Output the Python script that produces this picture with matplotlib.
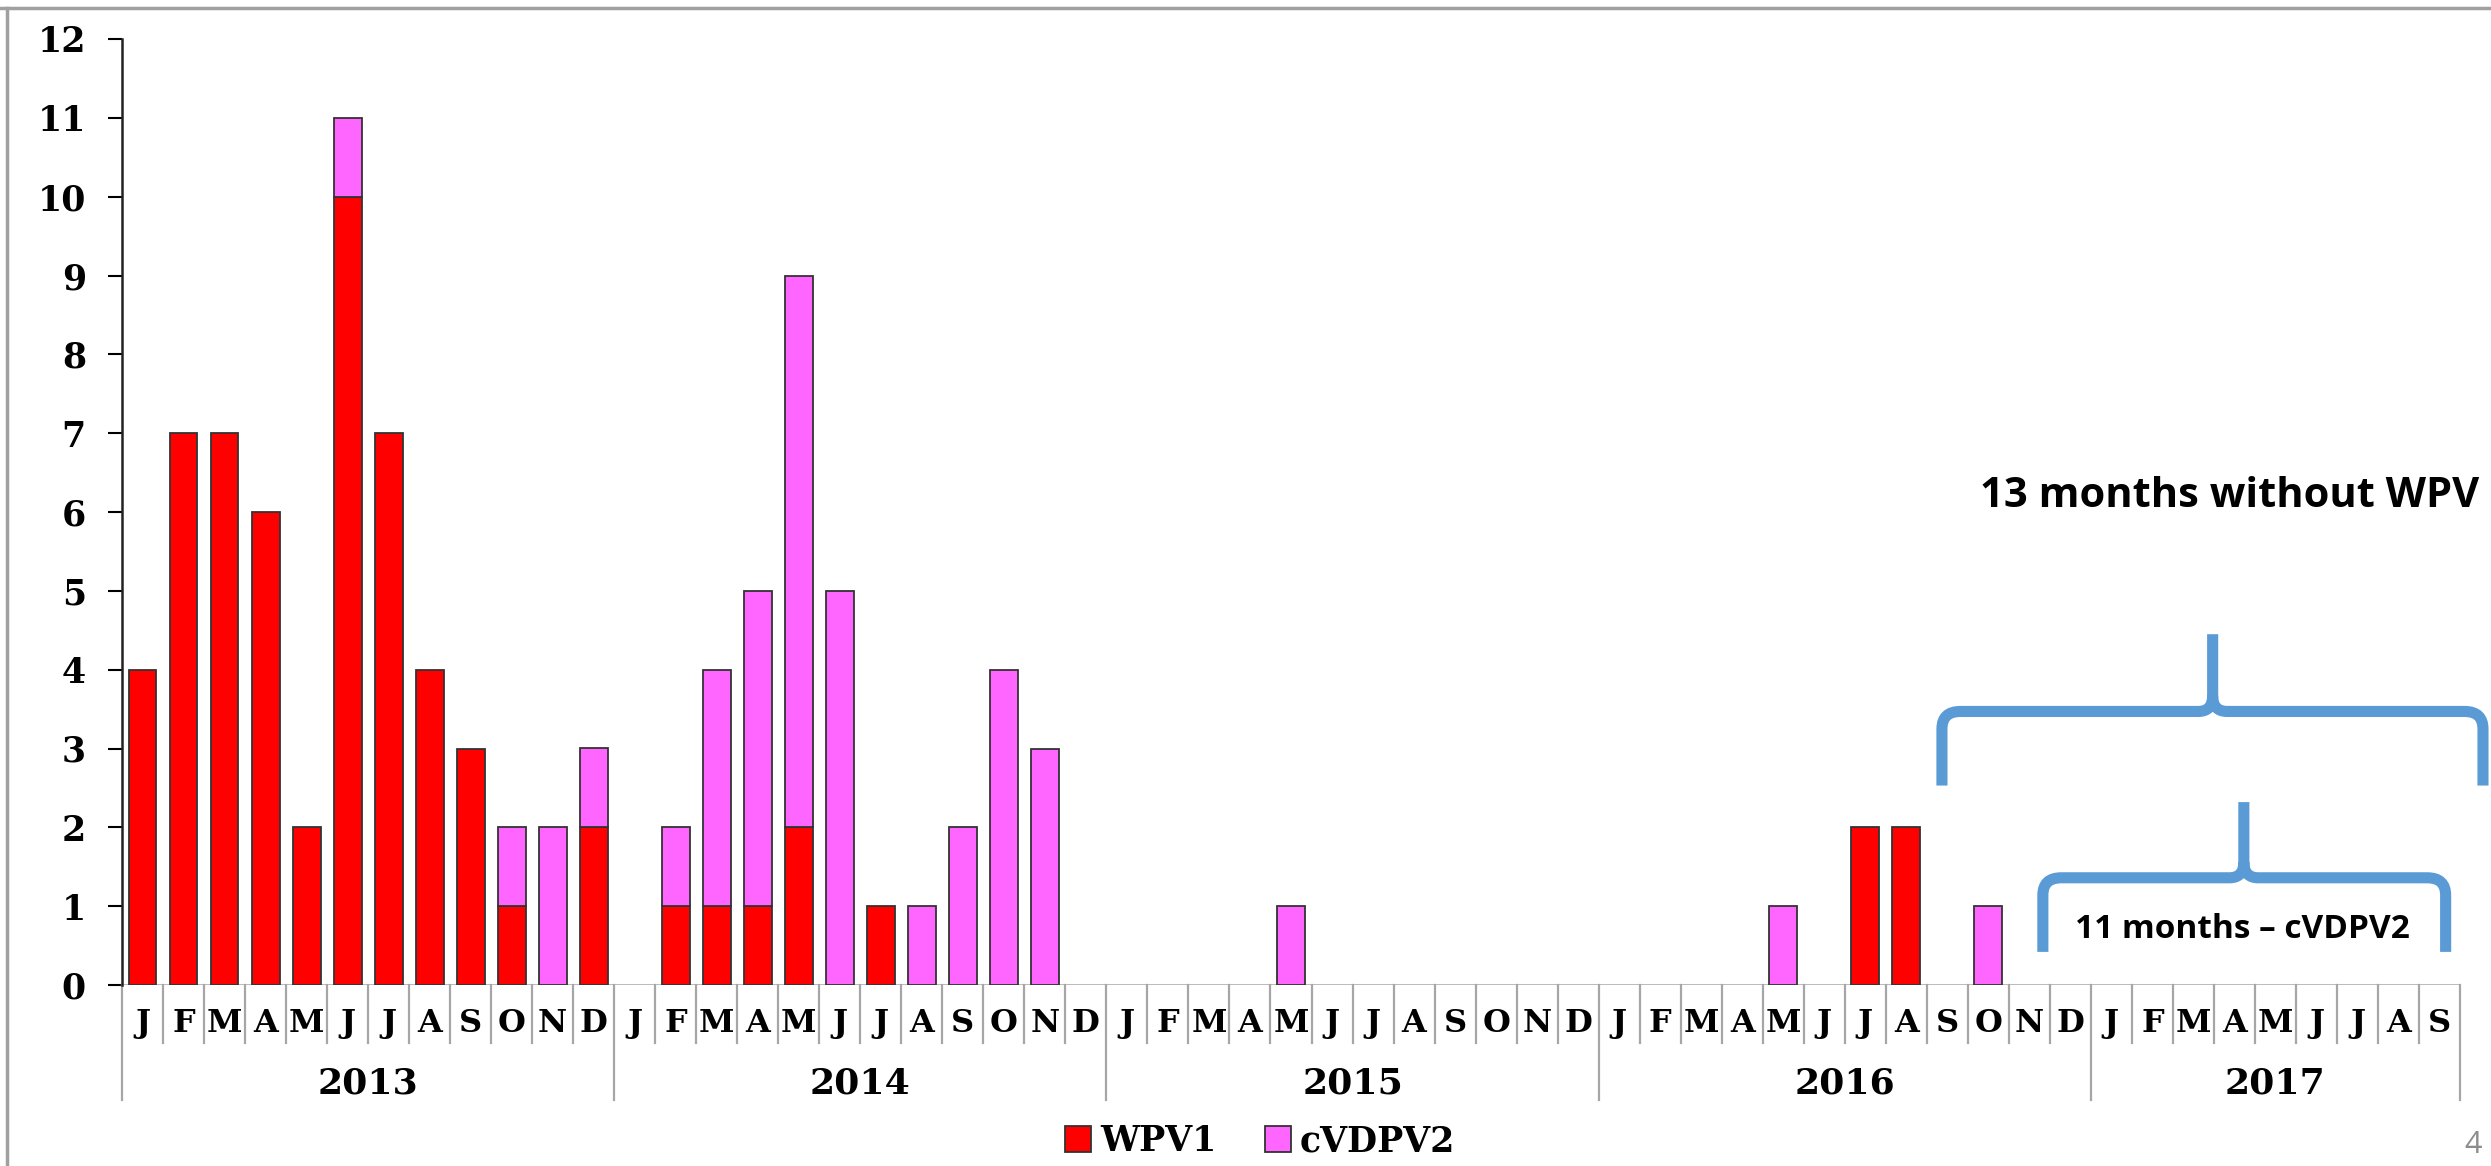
import numpy as np
import matplotlib
matplotlib.use('Agg')
import matplotlib.pyplot as plt
from matplotlib.path import Path
from matplotlib.patches import PathPatch, Patch
from matplotlib.lines import Line2D
import matplotlib.transforms as mtransforms

# monthly cases, Jan 2013 .. Sep 2017
month_labels = list('JFMAMJJASOND') * 4 + list('JFMAMJJAS')
years = ['2013', '2014', '2015', '2016', '2017']
wpv1 = [4, 7, 7, 6, 2, 10, 7, 4, 3, 1, 0, 2,
        0, 1, 1, 1, 2, 0, 1, 0, 0, 0, 0, 0,
        0, 0, 0, 0, 0, 0, 0, 0, 0, 0, 0, 0,
        0, 0, 0, 0, 0, 0, 2, 2, 0, 0, 0, 0,
        0, 0, 0, 0, 0, 0, 0, 0, 0]
cvdpv2 = [0, 0, 0, 0, 0, 1, 0, 0, 0, 1, 2, 1,
          0, 1, 3, 4, 7, 5, 0, 1, 2, 4, 3, 0,
          0, 0, 0, 0, 1, 0, 0, 0, 0, 0, 0, 0,
          0, 0, 0, 0, 1, 0, 0, 0, 0, 1, 0, 0,
          0, 0, 0, 0, 0, 0, 0, 0, 0]

RED = '#FF0000'
PINK = '#FF66FF'
BLUE = '#5B9BD5'
GRID = '#A6A6A6'
SERIF = 'DejaVu Serif'

W, H = 2491, 1166
fig = plt.figure(figsize=(W / 100, H / 100), dpi=100)
ax = fig.add_axes([122 / W, (H - 985) / H, (2460 - 122) / W, (985 - 39) / H])

n = len(month_labels)
x = np.arange(n)
w = np.array(wpv1, dtype=float)
c = np.array(cvdpv2, dtype=float)

mw = w > 0
ax.bar(x[mw], w[mw], width=0.68, color=RED, edgecolor='#333333', linewidth=1.3, zorder=3)
mc = c > 0
ax.bar(x[mc], c[mc], width=0.68, bottom=w[mc], color=PINK, edgecolor='#333333', linewidth=1.3, zorder=3)

ax.set_xlim(-0.5, n - 0.5)
ax.set_ylim(0, 12)
ax.set_yticks(range(0, 13))
ax.tick_params(axis='y', length=10, width=1.5, pad=16, direction='out')
for lab in ax.get_yticklabels():
    lab.set_fontfamily(SERIF)
    lab.set_fontweight('bold')
    lab.set_fontsize(25)
ax.set_xticks([])
for s in ['top', 'right', 'bottom']:
    ax.spines[s].set_visible(False)
ax.spines['left'].set_linewidth(1.8)
ax.spines['left'].set_color('#222222')
ax.axhline(0, color=GRID, lw=1.8, zorder=2)

# category axis: month separators, year separators, labels
trans = mtransforms.blended_transform_factory(ax.transData, ax.transAxes)
for k in range(n + 1):
    is_year = (k % 12 == 0) or k == n
    y0 = -0.1216 if is_year else -0.0613
    ax.add_line(Line2D([k - 0.5, k - 0.5], [0, y0], transform=trans, color=GRID, lw=1.6, clip_on=False))
for i, m in enumerate(month_labels):
    ax.text(i, -0.041, m, transform=trans, ha='center', va='center',
            fontsize=23, fontweight='bold', family=SERIF)
for j, yr in enumerate(years):
    start = j * 12
    end = min(start + 12, n)
    ax.text((start + end - 1) / 2, -0.1036, yr, transform=trans, ha='center', va='center',
            fontsize=26, fontweight='bold', family=SERIF)


def brace(left, right, stem, bot, arm, top, rx=0.45, ry=0.22, cx=0.35, cy=0.2):
    verts = [(left, bot), (left, arm - ry), (left, arm), (left + rx, arm),
             (stem - cx, arm), (stem, arm), (stem, arm + cy), (stem, top),
             (stem, arm + cy), (stem, arm), (stem + cx, arm),
             (right - rx, arm), (right, arm), (right, arm - ry), (right, bot)]
    codes = [Path.MOVETO, Path.LINETO, Path.CURVE3, Path.CURVE3,
             Path.LINETO, Path.CURVE3, Path.CURVE3, Path.LINETO,
             Path.MOVETO, Path.CURVE3, Path.CURVE3,
             Path.LINETO, Path.CURVE3, Path.CURVE3, Path.LINETO]
    p = PathPatch(Path(verts, codes), facecolor='none', edgecolor=BLUE, lw=8,
                  capstyle='butt', joinstyle='round', clip_on=False, zorder=4)
    ax.add_patch(p)


brace(43.87, 57.06, 50.47, 2.53, 3.47, 4.45)
brace(46.33, 56.15, 51.23, 0.42, 1.36, 2.32)

ax.text(56.96, 6.2, '13 months without WPV', ha='right', va='center',
        fontsize=30, fontweight='bold', family='Open Sans', clip_on=False)
ax.text(51.2, 0.71, '11 months \u2013 cVDPV2', ha='center', va='center',
        fontsize=24, fontweight='bold', family='Open Sans', clip_on=False)

handles = [Patch(facecolor=RED, edgecolor='#333333', lw=1.3, label='WPV1'),
           Patch(facecolor=PINK, edgecolor='#333333', lw=1.3, label='cVDPV2')]
fig.legend(handles=handles, loc='center', bbox_to_anchor=(1260 / W, 1 - 1141 / H),
           ncol=2, frameon=False, handlelength=0.75, handleheight=0.75, handletextpad=0.25,
           columnspacing=1.4, prop={'family': SERIF, 'weight': 'bold', 'size': 25})

# slide frame and page number
fig.add_artist(Line2D([0, 1], [1 - 8 / H, 1 - 8 / H], transform=fig.transFigure, color='#A0A0A0', lw=2.5))
fig.add_artist(Line2D([7 / W, 7 / W], [0, 1 - 8 / H], transform=fig.transFigure, color='#A0A0A0', lw=2.5))
fig.text(2473 / W, 1 - 1145 / H, '4', ha='center', va='center', fontsize=22,
         color='#8C8C8C', family='Open Sans')

fig.savefig('out.png', dpi=100)
